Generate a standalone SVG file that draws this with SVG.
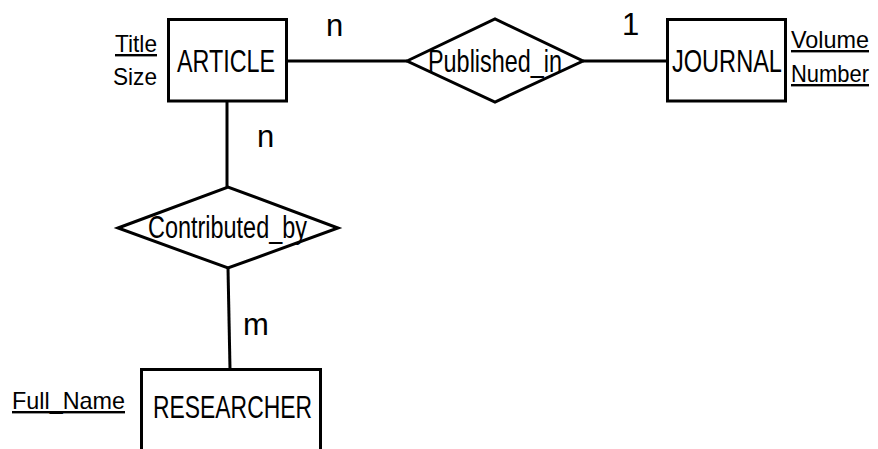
<svg xmlns="http://www.w3.org/2000/svg" width="878" height="449" viewBox="0 0 878 449">
<style>
.shape{fill:#fff;stroke:#000;stroke-width:3;stroke-linejoin:miter}
.conn{stroke:#000;stroke-width:3;fill:none}
text{font-family:"Liberation Sans",Arial,sans-serif;fill:#000}
.big{font-size:31px}
.attr{font-size:24px}
.key{text-decoration:underline;text-underline-offset:4px}
.card{font-size:31px}
</style>
<rect width="878" height="449" fill="#fff"/>
<g id="connectors">
<line class="conn" x1="287" y1="61" x2="407" y2="61"/>
<line class="conn" x1="583" y1="61" x2="667" y2="61"/>
<line class="conn" x1="227" y1="101" x2="227" y2="187"/>
<line class="conn" x1="228" y1="268" x2="230" y2="369"/>
<text class="card" x="326" y="36">n</text>
<text class="card" x="622" y="35">1</text>
<text class="card" x="257" y="147">n</text>
<text class="card" x="243" y="335">m</text>
</g>
<g id="article">
<rect class="shape" x="168.5" y="19.5" width="118" height="81.5"/>
<text class="big" transform="translate(177,72) scale(0.75,1)" x="0" y="0" textLength="130.7" lengthAdjust="spacingAndGlyphs">ARTICLE</text>
<text class="attr key" x="115" y="52" textLength="42" lengthAdjust="spacingAndGlyphs">Title</text>
<text class="attr" x="113" y="85" textLength="44" lengthAdjust="spacingAndGlyphs">Size</text>
</g>
<g id="published_in">
<polygon class="shape" points="407,61 495,19 583,61 495,102"/>
<text class="big" transform="translate(428,72) scale(0.755,1)" x="0" y="0" textLength="177.5" lengthAdjust="spacingAndGlyphs">Published_in</text>
</g>
<g id="journal">
<rect class="shape" x="667.5" y="19.5" width="118" height="81.5"/>
<text class="big" transform="translate(672,72) scale(0.76,1)" x="0" y="0" textLength="144.7" lengthAdjust="spacingAndGlyphs">JOURNAL</text>
<text class="attr key" x="791" y="48" textLength="78" lengthAdjust="spacingAndGlyphs">Volume</text>
<text class="attr key" x="791" y="82" textLength="78" lengthAdjust="spacingAndGlyphs">Number</text>
</g>
<g id="contributed_by">
<polygon class="shape" points="118,228 228,187 338,228 228,268"/>
<text class="big" x="148" y="238" textLength="159" lengthAdjust="spacingAndGlyphs">Contributed_by</text>
</g>
<g id="researcher">
<path class="shape" d="M141.5,452 V369.5 H320.5 V452"/>
<text class="big" x="153" y="418" textLength="159" lengthAdjust="spacingAndGlyphs">RESEARCHER</text>
<text class="attr key" x="12" y="409" textLength="113" lengthAdjust="spacingAndGlyphs">Full_Name</text>
</g>
</svg>
